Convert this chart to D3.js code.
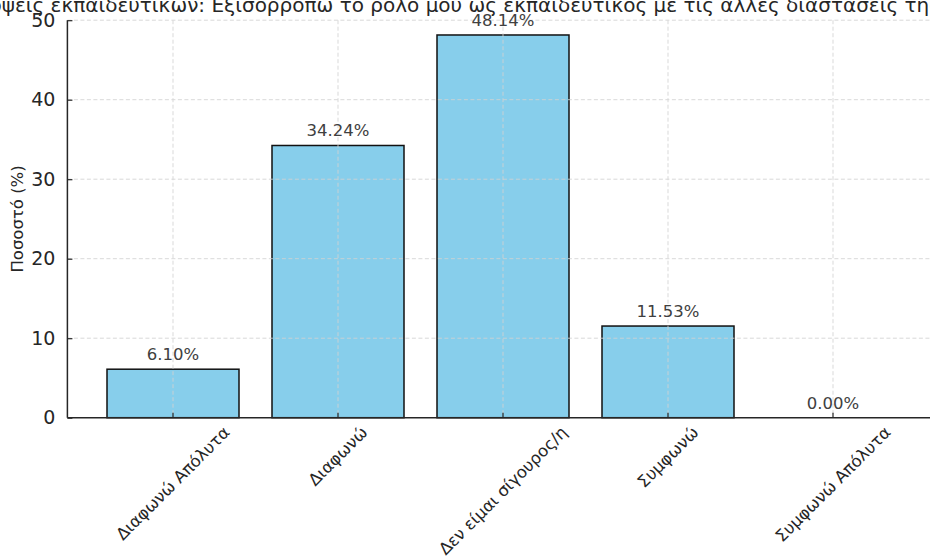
<!DOCTYPE html>
<html>
<head>
<meta charset="utf-8">
<script src="https://cdn.jsdelivr.net/npm/d3@7"></script>
<style>
  html, body { margin: 0; padding: 0; background: #fff; }
  svg { display: block; font-family: "DejaVu Sans", sans-serif; }
</style>
</head>
<body>
<svg id="chart" width="930" height="556"></svg>
<script>
// Survey answers and their share of respondents (%)
const categories = ["Διαφωνώ Απόλυτα", "Διαφωνώ", "Δεν είμαι σίγουρος/η", "Συμφωνώ", "Συμφωνώ Απόλυτα"];
const percentages = [6.10, 34.24, 48.14, 11.53, 0.00];
const yTicks = [0, 10, 20, 30, 40, 50];
const titleText = "Απόψεις εκπαιδευτικών: Εξισορροπώ το ρόλο μου ως εκπαιδευτικός με τις άλλες διαστάσεις της ζωής μου";
const yLabel = "Ποσοστό (%)";

const svg = d3.select("#chart");

// Plot frame (the frame runs slightly past the right edge of the canvas)
const frame = { left: 67.4, right: 938.6, top: 20.2, bottom: 417.7 };

const x = d3.scaleBand()
  .domain(categories)
  .range([frame.left, frame.right])
  .paddingInner(0.2)
  .paddingOuter(0.24);

const y = d3.scaleLinear().domain([0, 50]).range([frame.bottom, frame.top]);

const gridColor = "#d3d3d3";

// Bars
svg.append("g")
  .selectAll("rect")
  .data(percentages)
  .join("rect")
  .attr("x", (d, i) => x(categories[i]))
  .attr("y", d => y(d))
  .attr("width", x.bandwidth())
  .attr("height", d => y(0) - y(d))
  .attr("fill", "#87ceeb")
  .attr("stroke", "#111")
  .attr("stroke-width", 1.5);

// Dashed grid on top of the bars
const grid = svg.append("g")
  .attr("stroke", gridColor)
  .attr("stroke-width", 1)
  .attr("stroke-dasharray", "4,2.5")
  .attr("opacity", 0.85);
grid.selectAll("line.h")
  .data(yTicks.filter(t => t > 0))
  .join("line")
  .attr("class", "h")
  .attr("x1", frame.left).attr("x2", frame.right)
  .attr("y1", d => y(d)).attr("y2", d => y(d));
grid.selectAll("line.v")
  .data(categories)
  .join("line")
  .attr("class", "v")
  .attr("x1", d => x(d) + x.bandwidth() / 2)
  .attr("x2", d => x(d) + x.bandwidth() / 2)
  .attr("y1", frame.top).attr("y2", frame.bottom);

// Y axis (ticks point inward)
const yAxis = d3.axisLeft(y)
  .tickValues(yTicks)
  .tickSize(-5)
  .tickPadding(12)
  .tickFormat(d3.format("d"));
const gy = svg.append("g")
  .attr("transform", `translate(${frame.left},0)`)
  .call(yAxis);
gy.select(".domain").attr("stroke", "#262626").attr("stroke-width", 1.5)
  .attr("d", `M0,${frame.bottom}V${frame.top}`);
gy.selectAll(".tick line").attr("stroke", "#262626").attr("stroke-width", 1.2);
gy.selectAll(".tick text")
  .attr("fill", "#262626")
  .style("font-size", "19px")
  .style("font-family", "DejaVu Sans, sans-serif");

// X axis (ticks point inward, labels rotated)
const xAxis = d3.axisBottom(x).tickSize(-5).tickFormat("");
const gx = svg.append("g")
  .attr("transform", `translate(0,${frame.bottom})`)
  .call(xAxis);
gx.select(".domain").attr("stroke", "#262626").attr("stroke-width", 1.5)
  .attr("d", `M${frame.left},0H${frame.right}`);
gx.selectAll(".tick line").attr("stroke", "#262626").attr("stroke-width", 1.2);

const labelSize = 16.5;
const xl = svg.append("g");
categories.forEach(c => {
  const cx = x(c) + x.bandwidth() / 2;
  const t = xl.append("text")
    .attr("text-anchor", "middle")
    .attr("dominant-baseline", "central")
    .attr("fill", "#262626")
    .style("font-size", labelSize + "px")
    .text(c);
  const w = t.node().getComputedTextLength();
  const h = labelSize * 1.17;
  const half = (w + h) * Math.SQRT1_2 / 2;
  const cy = frame.bottom + 5 + half;
  t.attr("transform", `translate(${cx},${cy}) rotate(-45)`);
});

// Value labels above bars
svg.append("g")
  .selectAll("text")
  .data(percentages)
  .join("text")
  .attr("x", (d, i) => x(categories[i]) + x.bandwidth() / 2)
  .attr("y", d => y(d) - 9)
  .attr("text-anchor", "middle")
  .attr("fill", "#404040")
  .style("font-size", "16.5px")
  .text(d => d.toFixed(2) + "%");

// Y axis title
svg.append("text")
  .attr("transform", `translate(23,${(frame.top + frame.bottom) / 2}) rotate(-90)`)
  .attr("text-anchor", "middle")
  .attr("fill", "#262626")
  .style("font-size", "16.5px")
  .text(yLabel);

// Chart title, centred over the plot frame
svg.append("text")
  .attr("x", (frame.left + frame.right) / 2)
  .attr("y", 12)
  .attr("text-anchor", "middle")
  .attr("fill", "#262626")
  .style("font-size", "20px")
  .text(titleText);
</script>
</body>
</html>
